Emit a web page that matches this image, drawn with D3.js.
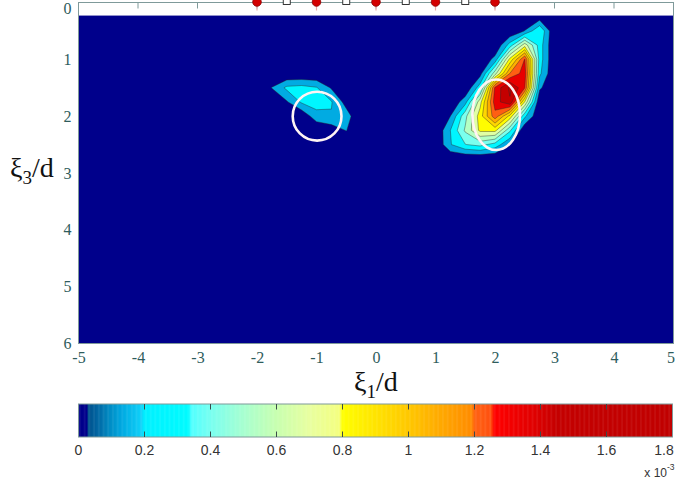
<!DOCTYPE html>
<html>
<head>
<meta charset="utf-8">
<script src="https://cdn.jsdelivr.net/npm/d3@7"></script>
<style>
body { margin: 0; background: #fff; }
</style>
</head>
<body>
<div id="graph"></div>
<script>
// ---- data ----
var xTicks = [-5, -4, -3, -2, -1, 0, 1, 2, 3, 4, 5];
var yTicks = [0, 1, 2, 3, 4, 5, 6];
var cbarTicks = [0, 0.2, 0.4, 0.6, 0.8, 1, 1.2, 1.4, 1.6, 1.8];
var cbarLabels = ["0", "0.2", "0.4", "0.6", "0.8", "1", "1.2", "1.4", "1.6", "1.8"];

// contour levels (x 10^-3)
var levels = [0.135, 0.27, 0.405, 0.54, 0.675, 0.81, 0.945, 1.08, 1.215, 1.35, 1.485, 1.62];

// colormap as seen on the colorbar
var cmapValues = [0, 0.027, 0.028, 0.06, 0.09, 0.13, 0.19, 0.2, 0.335, 0.34, 0.4, 0.5, 0.6, 0.7, 0.79, 0.8, 0.9, 1.0, 1.1, 1.19, 1.2, 1.25, 1.26, 1.38, 1.45, 1.8];
var cmapColors = ["#00008b", "#00008b", "#00508c", "#0068a4", "#0088c0", "#00a8e0", "#10d0f8", "#00f0ff", "#00fcff", "#50ffff", "#78fff0", "#a8ffd0", "#c8ffb0", "#e8ffa0", "#f4ff80", "#ffff00", "#ffe400", "#ffc800", "#ffa800", "#ff8c00", "#ff6414", "#ff5010", "#ff0000", "#e00000", "#c40000", "#c00000"];

// field values on a 0.25 grid (x 10^-3), zero elsewhere
var gridStep = 0.25;
var surfaceDepth = 0.23;

var leftPatchX0 = -2.0;
var leftPatchY0 = 1.25;
var leftPatch = [
    [0, 0, 0, 0, 0, 0, 0, 0],
    [0, 0.14, 0.30, 0.32, 0.28, 0.12, 0, 0],
    [0, 0, 0.12, 0.29, 0.33, 0.28, 0.08, 0],
    [0, 0, 0, 0.02, 0.22, 0.26, 0.20, 0],
    [0, 0, 0, 0, 0, 0.05, 0.14, 0],
    [0, 0, 0, 0, 0, 0, 0, 0]
];

var rightPatchX0 = 1.0;
var rightPatchY0 = 0.25;
var rightPatch = [
    [0, 0, 0, 0, 0, 0, 0, 0.05, 0],
    [0, 0, 0, 0, 0, 0, 0.14, 0.40, 0],
    [0, 0, 0, 0, 0, 0.33, 0.75, 0.34, 0],
    [0, 0, 0, 0, 0.18, 0.85, 1.36, 0.34, 0],
    [0, 0, 0, 0.08, 0.62, 1.22, 1.42, 0.30, 0],
    [0, 0, 0, 0.35, 1.38, 1.65, 1.36, 0.16, 0],
    [0, 0, 0.22, 0.76, 1.42, 1.60, 0.80, 0, 0],
    [0, 0.135, 0.50, 0.88, 1.30, 0.90, 0.30, 0, 0],
    [0, 0.27, 0.56, 0.84, 0.85, 0.43, 0, 0, 0],
    [0, 0.26, 0.40, 0.45, 0.35, 0.14, 0, 0, 0],
    [0, 0, 0, 0, 0, 0, 0, 0, 0]
];

// electrodes on the surface and the white rings
var electrodeX = [-2, -1, 0, 1, 2];
var gapX = [-1.5, -0.5, 0.5, 1.5];
var ringX = [-0.99, 2.02];
var ringY = [2.0, 1.975];
var ringRx = [0.41, 0.40];
var ringRy = [0.43, 0.62];

// ---- layout ----
var width = 675;
var height = 482;

var svg = d3.select('#graph')
    .append('svg')
    .attr('width', width)
    .attr('height', height);

var xScale = d3.scaleLinear().domain([-5, 5]).range([78.5, 673.5]);
var yScale = d3.scaleLinear().domain([0, 6]).range([2.5, 343.5]);
var cScale = d3.scaleLinear().domain([0, 1.8]).range([78.5, 672.5]);
var cmap = d3.scaleLinear().domain(cmapValues).range(cmapColors).clamp(true);

// ---- build full grid from the patches ----
var gx0 = -5, gy0 = 0.25;
var nx = Math.round(10 / gridStep) + 1;
var ny = Math.round((6 - gy0) / gridStep) + 1;
var values = new Array(nx * ny).fill(0);

function addPatch(patch, x0, y0) {
    var ix0 = Math.round((x0 - gx0) / gridStep);
    var iy0 = Math.round((y0 - gy0) / gridStep);
    patch.forEach(function (row, r) {
        row.forEach(function (v, c) {
            values[(iy0 + r) * nx + (ix0 + c)] = v;
        });
    });
}
addPatch(leftPatch, leftPatchX0, leftPatchY0);
addPatch(rightPatch, rightPatchX0, rightPatchY0);

var contours = d3.contours().size([nx, ny]).thresholds(levels)(values);

// grid coordinates -> pixels
var gridProjection = d3.geoTransform({
    point: function (x, y) {
        this.stream.point(xScale(gx0 + (x - 0.5) * gridStep), yScale(gy0 + (y - 0.5) * gridStep));
    }
});
var path = d3.geoPath(gridProjection);

// ---- plot ----
svg.append('clipPath').attr('id', 'plotclip')
    .append('rect')
    .attr('x', xScale(-5)).attr('y', yScale(0))
    .attr('width', xScale(5) - xScale(-5))
    .attr('height', yScale(6) - yScale(0));

var plot = svg.append('g').attr('clip-path', 'url(#plotclip)');

// navy background below the surface
plot.append('rect')
    .attr('x', xScale(-5))
    .attr('y', yScale(surfaceDepth))
    .attr('width', xScale(5) - xScale(-5))
    .attr('height', yScale(6) - yScale(surfaceDepth))
    .attr('fill', cmap(0));

plot.selectAll('path.band')
    .data(contours)
    .enter()
    .append('path')
    .attr('class', 'band')
    .attr('d', path)
    .attr('fill', function (d) { return cmap(d.value); })
    .attr('stroke', '#2a2a2a')
    .attr('stroke-opacity', 0.6)
    .attr('stroke-width', 0.7)
    .attr('stroke-linejoin', 'round');

// white rings
plot.selectAll('ellipse')
    .data(ringX)
    .enter()
    .append('ellipse')
    .attr('cx', function (d) { return xScale(d); })
    .attr('cy', function (d, i) { return yScale(ringY[i]); })
    .attr('rx', function (d, i) { return xScale(d + ringRx[i]) - xScale(d); })
    .attr('ry', function (d, i) { return yScale(ringY[i] + ringRy[i]) - yScale(ringY[i]); })
    .attr('fill', 'none')
    .attr('stroke', '#fff4f4')
    .attr('stroke-width', 2.6);

// frame
var frameColor = '#7f9a9a';
svg.append('rect')
    .attr('x', xScale(-5)).attr('y', yScale(0))
    .attr('width', xScale(5) - xScale(-5))
    .attr('height', yScale(6) - yScale(0))
    .attr('fill', 'none')
    .attr('stroke', frameColor)
    .attr('stroke-width', 1);

// inward ticks along the top edge
svg.append('g')
    .selectAll('line')
    .data(xTicks.slice(1, -1))
    .enter()
    .append('line')
    .attr('x1', function (d) { return xScale(d); })
    .attr('x2', function (d) { return xScale(d); })
    .attr('y1', yScale(0))
    .attr('y2', yScale(0) + 6)
    .attr('stroke', frameColor);

// electrodes
svg.append('g')
    .selectAll('line')
    .data(electrodeX)
    .enter()
    .append('line')
    .attr('x1', function (d) { return xScale(d); })
    .attr('x2', function (d) { return xScale(d); })
    .attr('y1', yScale(0))
    .attr('y2', yScale(0) + 8)
    .attr('stroke', '#e8a8a8')
    .attr('stroke-width', 1.2);

svg.append('g')
    .selectAll('circle')
    .data(electrodeX)
    .enter()
    .append('circle')
    .attr('cx', function (d) { return xScale(d); })
    .attr('cy', yScale(0) - 0.5)
    .attr('r', 4.3)
    .attr('fill', '#d40000')
    .attr('stroke', '#8a0000')
    .attr('stroke-width', 0.8);

svg.append('g')
    .selectAll('rect')
    .data(gapX)
    .enter()
    .append('rect')
    .attr('x', function (d) { return xScale(d) - 3.5; })
    .attr('y', yScale(0) - 5)
    .attr('width', 7)
    .attr('height', 7)
    .attr('fill', '#fff')
    .attr('stroke', '#222')
    .attr('stroke-width', 0.9);

// axes labels
var tickFont = '"Liberation Serif", "Times New Roman", serif';
var tickColor = '#2e5c5c';

var xAxis = d3.axisBottom(xScale).tickValues(xTicks).tickSize(0).tickPadding(8)
    .tickFormat(function (d) { return String(d); });
var yAxis = d3.axisLeft(yScale).tickValues(yTicks).tickSize(0).tickPadding(7)
    .tickFormat(function (d) { return String(d); });

var gx = svg.append('g')
    .attr('transform', 'translate(0,' + yScale(6) + ')')
    .call(xAxis);
var gy = svg.append('g')
    .attr('transform', 'translate(' + xScale(-5) + ',0)')
    .call(yAxis);

[gx, gy].forEach(function (g) {
    g.select('.domain').remove();
    g.selectAll('text')
        .style('font-family', tickFont)
        .style('font-size', '16px')
        .attr('fill', tickColor);
});

// keep the edge labels inside the page
gx.selectAll('.tick').filter(function (d) { return d === 5; })
    .select('text').attr('text-anchor', 'end').attr('x', 1);
gy.selectAll('.tick').filter(function (d) { return d === 0; })
    .select('text').attr('dy', '0.9em').attr('y', -3);

// axis titles
var xTitle = svg.append('text')
    .attr('x', xScale(0))
    .attr('y', 391)
    .attr('text-anchor', 'middle')
    .style('font-family', tickFont)
    .style('font-size', '28px')
    .attr('fill', '#111');
xTitle.append('tspan').text('ξ');
xTitle.append('tspan').attr('dy', 7).style('font-size', '19px').text('1');
xTitle.append('tspan').attr('dy', -7).text('/d');

var yTitle = svg.append('text')
    .attr('x', 10)
    .attr('y', 177)
    .style('font-family', tickFont)
    .style('font-size', '28px')
    .attr('fill', '#111');
yTitle.append('tspan').text('ξ');
yTitle.append('tspan').attr('dy', 7).style('font-size', '19px').text('3');
yTitle.append('tspan').attr('dy', -7).text('/d');

// ---- colorbar ----
var cbTop = 404, cbBottom = 437;
var cbStep = 0.0025;
var cbSamples = d3.range(0, 1.8, cbStep);

var cbar = svg.append('g');
cbar.selectAll('rect')
    .data(cbSamples)
    .enter()
    .append('rect')
    .attr('x', function (d) { return cScale(d); })
    .attr('y', cbTop)
    .attr('width', function (d) { return cScale(d + cbStep) - cScale(d) + 0.5; })
    .attr('height', cbBottom - cbTop)
    .attr('fill', function (d) { return cmap(d + cbStep / 2); });

cbar.append('rect')
    .attr('x', cScale(0)).attr('y', cbTop)
    .attr('width', cScale(1.8) - cScale(0))
    .attr('height', cbBottom - cbTop)
    .attr('fill', 'none')
    .attr('stroke', frameColor)
    .attr('stroke-width', 1);

cbar.selectAll('line.ttop')
    .data(cbarTicks.slice(1, -1))
    .enter()
    .append('line')
    .attr('class', 'ttop')
    .attr('x1', function (d) { return cScale(d); })
    .attr('x2', function (d) { return cScale(d); })
    .attr('y1', cbTop)
    .attr('y2', cbTop + 5.5)
    .attr('stroke', '#3a4a4a');

cbar.selectAll('line.tbot')
    .data(cbarTicks.slice(1, -1))
    .enter()
    .append('line')
    .attr('class', 'tbot')
    .attr('x1', function (d) { return cScale(d); })
    .attr('x2', function (d) { return cScale(d); })
    .attr('y1', cbBottom)
    .attr('y2', cbBottom - 5.5)
    .attr('stroke', '#3a4a4a');

var sansFont = '"Liberation Sans", Arial, sans-serif';
cbar.selectAll('text.clab')
    .data(cbarTicks)
    .enter()
    .append('text')
    .attr('class', 'clab')
    .attr('x', function (d) { return Math.min(cScale(d), 664); })
    .attr('y', 455)
    .attr('text-anchor', 'middle')
    .style('font-family', sansFont)
    .style('font-size', '14px')
    .attr('fill', '#333')
    .text(function (d, i) { return cbarLabels[i]; });

svg.append('text')
    .attr('x', 667)
    .attr('y', 477)
    .attr('text-anchor', 'end')
    .style('font-family', sansFont)
    .style('font-size', '12px')
    .attr('fill', '#333')
    .text('x 10');
svg.append('text')
    .attr('x', 667)
    .attr('y', 470)
    .style('font-family', sansFont)
    .style('font-size', '8.5px')
    .attr('fill', '#333')
    .text('-3');
</script>
</body>
</html>
